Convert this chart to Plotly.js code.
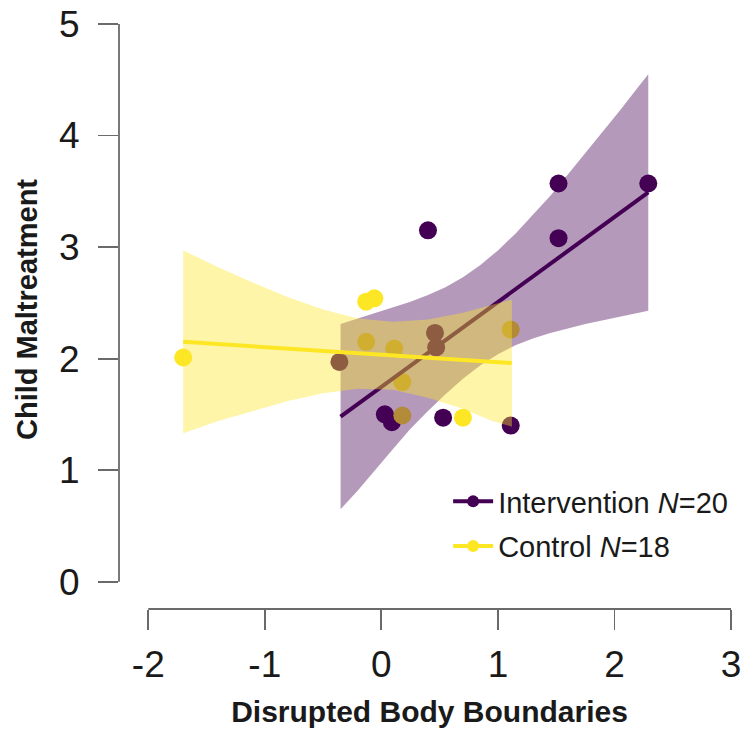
<!DOCTYPE html>
<html>
<head>
<meta charset="utf-8">
<script src="https://cdn.plot.ly/plotly-3.0.1.min.js"></script>
<style>
  html, body { margin: 0; padding: 0; background: #ffffff; }
  #chart { width: 744px; height: 729px; }
</style>
</head>
<body>
<div id="chart"></div>
<script>
// ---- Data ----
// Intervention group (purple)
var intX = [-0.36, 0.40, 0.46, 0.47, 0.03, 0.09, 0.53, 1.11, 1.52, 1.52, 2.29];
var intY = [1.97, 3.15, 2.23, 2.10, 1.50, 1.43, 1.47, 1.40, 3.57, 3.08, 3.57];
// Control group (yellow)
var ctrlX = [-1.70, -0.13, -0.06, -0.13, 0.11, 0.18, 0.18, 0.70, 1.11];
var ctrlY = [2.01, 2.51, 2.54, 2.15, 2.09, 1.79, 1.49, 1.47, 2.26];

// Fitted lines (end points)
var intLineX = [-0.35, 2.29];
var intLineY = [1.48, 3.49];
var ctrlLineX = [-1.70, 1.12];
var ctrlLineY = [2.15, 1.96];

// Confidence bands (read along x)
var intBandX  = [-0.35, -0.20, -0.05, 0.10, 0.25, 0.40, 0.55, 0.70, 0.85, 1.00, 1.15, 1.30, 1.45, 1.60, 1.75, 1.90, 2.05, 2.20, 2.29];
var intBandHi = [2.31, 2.36, 2.41, 2.46, 2.51, 2.57, 2.64, 2.73, 2.84, 2.97, 3.12, 3.29, 3.46, 3.65, 3.84, 4.03, 4.23, 4.43, 4.55];
var intBandLo = [0.65, 0.82, 1.00, 1.19, 1.37, 1.53, 1.68, 1.82, 1.94, 2.04, 2.12, 2.18, 2.23, 2.27, 2.31, 2.35, 2.38, 2.41, 2.43];

var ctrlBandX  = [-1.70, -1.40, -1.10, -0.80, -0.50, -0.20, 0.10, 0.40, 0.70, 0.95, 1.12];
var ctrlBandHi = [2.97, 2.82, 2.68, 2.55, 2.44, 2.36, 2.33, 2.35, 2.41, 2.48, 2.53];
var ctrlBandLo = [1.33, 1.44, 1.53, 1.62, 1.69, 1.73, 1.72, 1.65, 1.55, 1.44, 1.39];

var xTicks = [-2, -1, 0, 1, 2, 3];
var yTicks = [0, 1, 2, 3, 4, 5];
var legendNames = ['Intervention <i>N</i>=20', 'Control <i>N</i>=18'];

// ---- Styles ----
var PURPLE = '#440154';
var YELLOW = '#FDE725';
var PURPLE_FILL = 'rgba(68,1,84,0.40)';
var YELLOW_FILL = 'rgba(253,231,37,0.40)';
var FONT = '"Liberation Sans", Arial, Helvetica, sans-serif';
var AXIS_GREY = '#6a6a6a';

function band(xs, hi, lo, color) {
  return {
    x: xs.concat(xs.slice().reverse()),
    y: hi.concat(lo.slice().reverse()),
    type: 'scatter', mode: 'lines', fill: 'toself',
    fillcolor: color, line: {width: 0, color: 'rgba(0,0,0,0)'},
    hoverinfo: 'skip', showlegend: false
  };
}

var traces = [
  {x: intX, y: intY, type: 'scatter', mode: 'markers',
   marker: {color: PURPLE, size: 18}, showlegend: false},
  {x: ctrlX, y: ctrlY, type: 'scatter', mode: 'markers',
   marker: {color: YELLOW, size: 18}, showlegend: false},
  band(intBandX, intBandHi, intBandLo, PURPLE_FILL),
  {x: intLineX, y: intLineY, type: 'scatter', mode: 'lines',
   line: {color: PURPLE, width: 4}, showlegend: false},
  band(ctrlBandX, ctrlBandHi, ctrlBandLo, YELLOW_FILL),
  {x: ctrlLineX, y: ctrlLineY, type: 'scatter', mode: 'lines',
   line: {color: YELLOW, width: 4}, showlegend: false},
  // legend-only entries
  {x: [null], y: [null], type: 'scatter', mode: 'lines+markers', name: legendNames[0],
   line: {color: PURPLE, width: 4}, marker: {color: PURPLE, size: 12}, legendgroup: 'a'},
  {x: [null], y: [null], type: 'scatter', mode: 'lines+markers', name: legendNames[1],
   line: {color: YELLOW, width: 4}, marker: {color: YELLOW, size: 12}, legendgroup: 'b'}
];

var layout = {
  width: 744, height: 729,
  paper_bgcolor: '#ffffff', plot_bgcolor: '#ffffff',
  margin: {l: 119, r: 4, t: 10, b: 120},
  font: {family: FONT, color: '#1a1a1a'},
  showlegend: true,
  legend: {
    x: 0.53, y: 0.222, xanchor: 'left', yanchor: 'top',
    font: {family: FONT, size: 29, color: '#1a1a1a'},
    bgcolor: 'rgba(0,0,0,0)', traceorder: 'grouped', tracegroupgap: 4,
    itemwidth: 40
  },
  xaxis: {
    range: [-2.251, 3.077], tickvals: xTicks, ticktext: xTicks.map(String),
    showgrid: false, zeroline: false, showline: false,
    ticks: 'outside', ticklen: 20, tickwidth: 1.8, tickcolor: AXIS_GREY,
    tickfont: {family: FONT, size: 37, color: '#1a1a1a'},
    ticklabelstandoff: 3,
    title: {text: '<b>Disrupted Body Boundaries</b>', font: {family: FONT, size: 30, color: '#1a1a1a'}, standoff: 16},
    fixedrange: true
  },
  yaxis: {
    range: [-0.245, 5.1255], tickvals: yTicks, ticktext: yTicks.map(String),
    showgrid: false, zeroline: false, showline: false,
    ticks: 'outside', ticklen: 20, tickwidth: 1.8, tickcolor: AXIS_GREY,
    tickfont: {family: FONT, size: 37, color: '#1a1a1a'},
    ticklabelstandoff: 11,
    title: {text: '<b>Child Maltreatment</b>', font: {family: FONT, size: 29, color: '#1a1a1a'}, standoff: 12},
    fixedrange: true
  },
  shapes: [
    {type: 'line', xref: 'paper', yref: 'y', x0: 0, x1: 0, y0: yTicks[0], y1: yTicks[yTicks.length - 1],
     line: {color: AXIS_GREY, width: 1.8}},
    {type: 'line', xref: 'x', yref: 'paper', x0: xTicks[0], x1: xTicks[xTicks.length - 1], y0: 0, y1: 0,
     line: {color: AXIS_GREY, width: 1.8}}
  ]
};

Plotly.newPlot('chart', traces, layout, {displayModeBar: false, staticPlot: true});
</script>
</body>
</html>
